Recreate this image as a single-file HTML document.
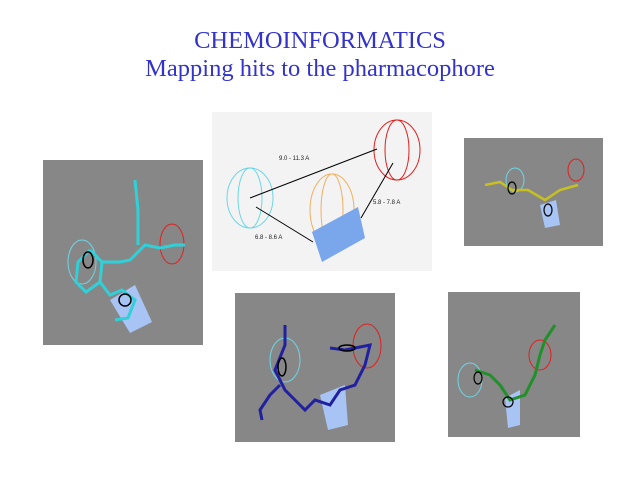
<!DOCTYPE html>
<html><head><meta charset="utf-8"><style>
body{margin:0;width:640px;height:480px;background:#fff;position:relative;overflow:hidden;font-family:"Liberation Serif",serif}
.t{position:absolute;left:0;width:640px;text-align:center;color:#3333cc;font-size:24.5px;line-height:28px}
.p{position:absolute;background:#878787}
svg{position:absolute;left:0;top:0}
</style></head><body>
<div class="t" style="top:27px">CHEMOINFORMATICS</div>
<div class="t" style="top:55px">Mapping hits to the pharmacophore</div>
<div class="p" style="left:43px;top:160px;width:160px;height:185px"></div>
<div class="p" style="left:464px;top:138px;width:139px;height:108px"></div>
<div class="p" style="left:235px;top:293px;width:160px;height:149px"></div>
<div class="p" style="left:448px;top:292px;width:132px;height:145px"></div>
<div style="position:absolute;left:212px;top:112px;width:220px;height:159px;background:#f3f3f3"></div>
<svg width="640" height="480">
<g fill="none" stroke-width="1">
<ellipse cx="250" cy="198" rx="23" ry="30" stroke="#6cd6e6"/>
<ellipse cx="250" cy="198" rx="12" ry="30" stroke="#6cd6e6"/>
<ellipse cx="397" cy="150" rx="23" ry="30" stroke="#e02020"/>
<ellipse cx="397" cy="150" rx="12" ry="30" stroke="#e02020"/>
<ellipse cx="332" cy="210" rx="22" ry="36" stroke="#f0b060"/>
<ellipse cx="332" cy="210" rx="11" ry="36" stroke="#f0b060"/>
<line x1="250" y1="198" x2="377" y2="149" stroke="#000"/>
<line x1="256" y1="207" x2="313" y2="242" stroke="#000"/>
<line x1="361" y1="218" x2="393" y2="163" stroke="#000"/>
</g>
<polygon points="312,232 358,207 365,238 322,262" fill="#7aa6ec"/>
<g font-family="Liberation Sans,sans-serif" font-size="6" fill="#222">
<text x="279" y="160">9.0 - 11.3 A</text>
<text x="373" y="204">5.8 - 7.8 A</text>
<text x="255" y="239">6.8 - 8.6 A</text>
</g>
<g fill="none" stroke-width="3">
<ellipse cx="82" cy="262" rx="14" ry="22" stroke="#6cd6e6" stroke-width="1"/>
<ellipse cx="172" cy="244" rx="12" ry="20" stroke="#e02020" stroke-width="1"/>
<polygon points="110,300 135,285 152,322 130,333" fill="#a8c4f4" stroke="none"/>
<polyline points="90,250 102,262 100,282 86,292 76,282 78,262 90,250" stroke="#30d0d8"/>
<polyline points="102,262 120,262 130,260 145,245 160,248 175,245 185,245" stroke="#30d0d8"/>
<polyline points="138,245 138,210 135,180" stroke="#30d0d8"/>
<polyline points="100,282 110,295 122,290 135,300 128,318 115,320" stroke="#30d0d8"/>
<ellipse cx="88" cy="260" rx="5" ry="8" stroke="#000" stroke-width="1.5"/>
<ellipse cx="125" cy="300" rx="6" ry="6" stroke="#000" stroke-width="1.5"/>
</g>
<g fill="none" stroke-width="2.5">
<ellipse cx="515" cy="180" rx="9" ry="12" stroke="#6cd6e6" stroke-width="1"/>
<ellipse cx="576" cy="170" rx="8" ry="11" stroke="#e02020" stroke-width="1"/>
<polygon points="540,205 556,200 560,225 545,228" fill="#a8c4f4" stroke="none"/>
<polyline points="485,185 500,182 512,190 528,190 545,200 560,190 578,185" stroke="#c8c020"/>
<ellipse cx="512" cy="188" rx="4" ry="6" stroke="#000" stroke-width="1.2"/>
<ellipse cx="548" cy="210" rx="4" ry="6" stroke="#000" stroke-width="1.2"/>
</g>
<g fill="none" stroke-width="3">
<ellipse cx="285" cy="360" rx="15" ry="22" stroke="#6cd6e6" stroke-width="1"/>
<ellipse cx="367" cy="346" rx="14" ry="22" stroke="#e02020" stroke-width="1"/>
<polygon points="320,395 345,385 348,425 328,430" fill="#a8c4f4" stroke="none"/>
<polyline points="285,325 285,345 275,370 285,390 290,395 305,410 315,400 330,405 340,390 355,385 365,365 370,345 345,350 330,348" stroke="#2020a0"/>
<polyline points="280,385 270,395 260,410 262,420" stroke="#2020a0"/>
<ellipse cx="282" cy="367" rx="4" ry="9" stroke="#000" stroke-width="1.5"/>
<ellipse cx="347" cy="348" rx="8" ry="3" stroke="#000" stroke-width="1.5"/>
</g>
<g fill="none" stroke-width="3">
<ellipse cx="470" cy="380" rx="12" ry="17" stroke="#6cd6e6" stroke-width="1"/>
<ellipse cx="540" cy="355" rx="11" ry="15" stroke="#e02020" stroke-width="1"/>
<polygon points="505,398 520,390 520,425 508,428" fill="#a8c4f4" stroke="none"/>
<polyline points="475,370 490,375 500,385 510,400 525,395 535,375 540,355 545,340 555,325" stroke="#20902a"/>
<ellipse cx="478" cy="378" rx="4" ry="6" stroke="#000" stroke-width="1.2"/>
<ellipse cx="508" cy="402" rx="5" ry="5" stroke="#000" stroke-width="1.2"/>
</g>
</svg>
</body></html>
